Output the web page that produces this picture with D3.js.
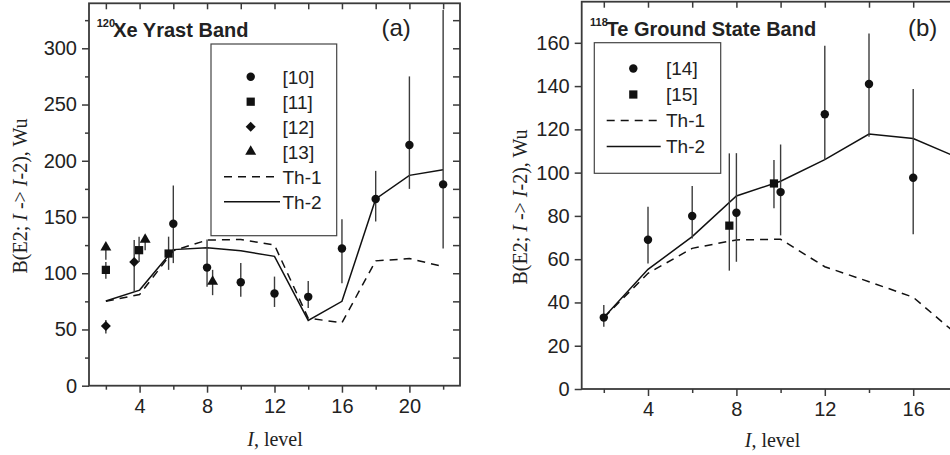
<!DOCTYPE html>
<html>
<head>
<meta charset="utf-8">
<script src="https://cdn.jsdelivr.net/npm/d3@7"></script>
<style>
    body { margin: 0; background: #fff; }
    svg { display: block; }
</style>
</head>
<body>
<script>

// Data: panel (a) 120Xe yrast band
// --------------------------------------------------------------------------------------------
const xeRef10Levels = [6, 8, 10, 12, 14, 16, 18, 20, 22]
const xeRef10B      = [144, 105, 92, 82, 79, 122, 166, 214, 179]
const xeRef10Lo     = [109, 88, 79, 70, 69, 91, 146, 175, 122]
const xeRef10Hi     = [178, 130, 109, 97, 93, 148, 191, 275, 334]

const xeRef11Levels = [2, 3.97, 5.72]
const xeRef11B      = [103, 120.5, 117.5]
const xeRef11Lo     = [95, 110, 103]
const xeRef11Hi     = [110, 132.5, 132.5]

const xeRef12Levels = [2, 3.68]
const xeRef12B      = [53, 110]
const xeRef12Lo     = [46.5, 83.5]
const xeRef12Hi     = [58.5, 129.5]

const xeRef13Levels = [2, 4.33, 8.33]
const xeRef13B      = [123, 130, 92.5]
const xeRef13Lo     = [112, 120.5, 80.5]
const xeRef13Hi     = [126, 134, 103]

const xeThLevels = [2, 4, 6, 8, 10, 12, 14, 16, 18, 20, 22]
const xeTh1      = [75, 81, 120, 129.5, 130, 125, 60, 56, 111, 113, 106]
const xeTh2      = [75.3, 85, 121, 122.7, 120, 115, 58, 75, 166, 187, 192]

const xeLegendLabels = ["[10]", "[11]", "[12]", "[13]", "Th-1", "Th-2"]

// Data: panel (b) 118Te ground state band
// --------------------------------------------------------------------------------------------
const teRef14Levels = [2, 4, 6, 8, 10, 12, 14, 16]
const teRef14B      = [33, 69, 80, 81.5, 91, 127, 141, 97.6]
const teRef14Lo     = [28.8, 58, 69.6, 58.8, 71, 106, 116.6, 71.5]
const teRef14Hi     = [38.8, 84.2, 93.8, 109, 113, 158.6, 164.3, 138.6]

const teRef15Levels = [7.68, 9.7]
const teRef15B      = [75.5, 95]
const teRef15Lo     = [54.7, 83.5]
const teRef15Hi     = [108.9, 105.8]

const teThLevels = [2, 4, 6, 8, 10, 12, 14, 16, 18]
const teTh1      = [33, 53.5, 65, 68.9, 69.2, 56.5, 49.6, 42.4, 25]
const teTh2      = [33, 55.3, 70.4, 89.2, 96, 106, 117.8, 115.8, 107]

const teLegendLabels = ["[14]", "[15]", "Th-1", "Th-2"]

// Tick values
const xeXMajor = [4, 8, 12, 16, 20]
const xeXMinor = [2, 6, 10, 14, 18, 22]
const teXMajor = [4, 8, 12, 16]
const teXMinor = [2, 6, 10, 14, 18]
const xeYMajor = [0, 50, 100, 150, 200, 250, 300]
const xeYMinor = [25, 75, 125, 175, 225, 275, 325]
const teYMajor = [0, 20, 40, 60, 80, 100, 120, 140, 160]


// Helpers
// --------------------------------------------------------------------------------------------
const SANS = "'Liberation Sans', Arial, sans-serif"
const SERIF = "'Liberation Serif', 'Times New Roman', serif"
const INK = "#222"
const FRAME = "#3a3a3a"

function zipSeries(levels, b, lo, hi) {
    return levels.map((l, i) => ({ level: l, b: b[i], lo: lo ? lo[i] : null, hi: hi ? hi[i] : null }))
}

// marker paths, drawn at the origin
const markerPath = {
    circle:   d3.symbol().type(d3.symbolCircle).size(56)(),
    square:   d3.symbol().type(d3.symbolSquare).size(68)(),
    diamond:  d3.symbol().type(d3.symbolSquare).size(50)(),
    triangle: d3.symbol().type(d3.symbolTriangle).size(52)()
}
const markerRotate = { circle: 0, square: 0, diamond: 45, triangle: 0 }

let svg = d3.select("body").append("svg")
    .attr("width", 950)
    .attr("height", 455)


function drawPanel(p) {
    let x = d3.scaleLinear().domain(p.xDomain).range([p.left, p.right])
    let y = d3.scaleLinear().domain(p.yDomain).range([p.bottom, p.top])

    let g = svg.append("g")

    function styleAxis(sel, keepText) {
        sel.select(".domain").remove()
        sel.selectAll(".tick line").attr("stroke", FRAME).attr("stroke-width", 1.5)
        if (keepText) {
            sel.selectAll(".tick text")
                .attr("fill", INK)
                .style("font-family", SANS)
                .style("font-size", "20px")
        } else {
            sel.selectAll(".tick text").remove()
        }
    }

    // bottom axis, major and minor
    g.append("g").attr("transform", `translate(0,${p.bottom})`)
        .call(d3.axisBottom(x).tickValues(p.xMajor).tickSize(7).tickPadding(6).tickFormat(d3.format("d")))
        .call(s => styleAxis(s, true))
    g.append("g").attr("transform", `translate(0,${p.bottom})`)
        .call(d3.axisBottom(x).tickValues(p.xMinor).tickSize(4))
        .call(s => styleAxis(s, false))

    // top axis, ticks pointing inward
    g.append("g").attr("transform", `translate(0,${p.top})`)
        .call(d3.axisBottom(x).tickValues(p.xMajor.concat(p.xMinor)).tickSize(6))
        .call(s => styleAxis(s, false))

    // left axis
    g.append("g").attr("transform", `translate(${p.left},0)`)
        .call(d3.axisLeft(y).tickValues(p.yMajor).tickSize(7).tickPadding(5).tickFormat(d3.format("d")))
        .call(s => styleAxis(s, true))
    if (p.yMinor.length) {
        g.append("g").attr("transform", `translate(${p.left},0)`)
            .call(d3.axisLeft(y).tickValues(p.yMinor).tickSize(4))
            .call(s => styleAxis(s, false))
    }

    // right axis, ticks pointing inward
    g.append("g").attr("transform", `translate(${p.right},0)`)
        .call(d3.axisLeft(y).tickValues(p.yMajor.concat(p.yMinor).filter(v => v > 0)).tickSize(7))
        .call(s => styleAxis(s, false))

    // frame
    g.append("rect")
        .attr("x", p.left).attr("y", p.top)
        .attr("width", p.right - p.left).attr("height", p.bottom - p.top)
        .attr("fill", "none")
        .attr("stroke", FRAME)
        .attr("stroke-width", 1.8)

    // theory lines
    let linepoints = d3.line().x(d => x(d.level)).y(d => y(d.b))
    p.lines.forEach(ln => {
        g.append("path")
            .datum(zipSeries(ln.levels, ln.values))
            .attr("d", linepoints)
            .attr("fill", "none")
            .attr("stroke", "#111")
            .attr("stroke-width", 1.5)
            .attr("stroke-dasharray", ln.dashed ? "8,6" : null)
    })

    // error bars and markers
    p.series.forEach(s => {
        let pts = zipSeries(s.levels, s.b, s.lo, s.hi)
        g.append("g").selectAll("line")
            .data(pts)
            .join("line")
            .attr("x1", d => x(d.level)).attr("x2", d => x(d.level))
            .attr("y1", d => y(d.lo)).attr("y2", d => y(d.hi))
            .attr("stroke", "#3c3c3c")
            .attr("stroke-width", 1.4)
        g.append("g").selectAll("path")
            .data(pts)
            .join("path")
            .attr("d", markerPath[s.marker])
            .attr("transform", d => `translate(${x(d.level)},${y(d.b)}) rotate(${markerRotate[s.marker]})`)
            .attr("fill", "#111")
    })

    // legend
    let lg = p.legend
    g.append("rect")
        .attr("x", lg.x0).attr("y", lg.y0)
        .attr("width", lg.x1 - lg.x0).attr("height", lg.y1 - lg.y0)
        .attr("fill", "#fff")
        .attr("stroke", "#444")
        .attr("stroke-width", 1.2)
    lg.labels.forEach((label, i) => {
        let yy = lg.firstY + i * lg.step
        let item = lg.items[i]
        if (item.marker) {
            g.append("path")
                .attr("d", markerPath[item.marker])
                .attr("transform", `translate(${lg.symbolX},${yy}) rotate(${markerRotate[item.marker]})`)
                .attr("fill", "#111")
        } else {
            g.append("line")
                .attr("x1", lg.lineX0).attr("x2", lg.lineX1)
                .attr("y1", yy).attr("y2", yy)
                .attr("stroke", "#111")
                .attr("stroke-width", 1.5)
                .attr("stroke-dasharray", item.dashed ? "8,6" : null)
        }
        g.append("text")
            .attr("x", lg.textX).attr("y", yy)
            .attr("dy", "0.36em")
            .attr("fill", INK)
            .style("font-family", SANS)
            .style("font-size", "19px")
            .text(label)
    })

    // panel title with superscript mass number
    let t = g.append("text")
        .attr("x", p.title.x).attr("y", p.title.y)
        .attr("fill", INK)
        .style("font-family", SANS)
        .style("font-weight", "bold")
    t.append("tspan").attr("dy", -10).style("font-size", "11px").text(p.title.mass)
    t.append("tspan").attr("x", p.title.x + 16.5).attr("dy", 10).style("font-size", "20px").text(p.title.text)

    g.append("text")
        .attr("x", p.tag.x).attr("y", p.tag.y)
        .attr("fill", INK)
        .style("font-family", SANS)
        .style("font-size", "24px")
        .text(p.tag.text)

    // axis titles
    let yt = g.append("text")
        .attr("transform", `translate(${p.yTitle.x},${p.yTitle.y}) rotate(-90)`)
        .attr("text-anchor", "middle")
        .attr("fill", INK)
        .style("font-family", SERIF)
        .style("font-size", "20px")
    yt.append("tspan").text("B(E2; ")
    yt.append("tspan").style("font-style", "italic").text("I")
    yt.append("tspan").text(" -> ")
    yt.append("tspan").style("font-style", "italic").text("I")
    yt.append("tspan").text("-2), Wu")

    let xt = g.append("text")
        .attr("x", p.xTitle.x).attr("y", p.xTitle.y)
        .attr("text-anchor", "middle")
        .attr("fill", INK)
        .style("font-family", SERIF)
        .style("font-size", "20px")
    xt.append("tspan").style("font-style", "italic").text("I")
    xt.append("tspan").text(", level")
}


// Panel (a)
drawPanel({
    left: 89, right: 460, top: 3.3, bottom: 385.7,
    xDomain: [1, 23], yDomain: [0, 340],
    xMajor: xeXMajor, xMinor: xeXMinor,
    yMajor: xeYMajor, yMinor: xeYMinor,
    lines: [
        { levels: xeThLevels, values: xeTh1, dashed: true },
        { levels: xeThLevels, values: xeTh2, dashed: false }
    ],
    series: [
        { levels: xeRef10Levels, b: xeRef10B, lo: xeRef10Lo, hi: xeRef10Hi, marker: "circle" },
        { levels: xeRef11Levels, b: xeRef11B, lo: xeRef11Lo, hi: xeRef11Hi, marker: "square" },
        { levels: xeRef12Levels, b: xeRef12B, lo: xeRef12Lo, hi: xeRef12Hi, marker: "diamond" },
        { levels: xeRef13Levels, b: xeRef13B, lo: xeRef13Lo, hi: xeRef13Hi, marker: "triangle" }
    ],
    legend: {
        x0: 211, x1: 336.7, y0: 44, y1: 235.7,
        firstY: 76.7, step: 25,
        symbolX: 250.7, textX: 282.5, lineX0: 224, lineX1: 280,
        labels: xeLegendLabels,
        items: [{ marker: "circle" }, { marker: "square" }, { marker: "diamond" }, { marker: "triangle" },
                { dashed: true }, { dashed: false }]
    },
    title: { x: 96.7, y: 37, mass: "120", text: "Xe Yrast Band" },
    tag: { x: 381.5, y: 36, text: "(a)" },
    yTitle: { x: 27, y: 196 },
    xTitle: { x: 275, y: 446 }
})

// Panel (b), its right edge lies beyond the picture
drawPanel({
    left: 581.7, right: 581.7 + 22 * 22.1, top: 1.7, bottom: 389,
    xDomain: [1, 23], yDomain: [0, 179],
    xMajor: teXMajor, xMinor: teXMinor,
    yMajor: teYMajor, yMinor: [],
    lines: [
        { levels: teThLevels, values: teTh1, dashed: true },
        { levels: teThLevels, values: teTh2, dashed: false }
    ],
    series: [
        { levels: teRef14Levels, b: teRef14B, lo: teRef14Lo, hi: teRef14Hi, marker: "circle" },
        { levels: teRef15Levels, b: teRef15B, lo: teRef15Lo, hi: teRef15Hi, marker: "square" }
    ],
    legend: {
        x0: 594.3, x1: 720.7, y0: 42.7, y1: 173.3,
        firstY: 68.5, step: 26,
        symbolX: 633.3, textX: 666, lineX0: 606.7, lineX1: 660.7,
        labels: teLegendLabels,
        items: [{ marker: "circle" }, { marker: "square" }, { dashed: true }, { dashed: false }]
    },
    title: { x: 590, y: 36, mass: "118", text: "Te Ground State Band" },
    tag: { x: 908, y: 36, text: "(b)" },
    yTitle: { x: 526.5, y: 207 },
    xTitle: { x: 772.5, y: 447 }
})

</script>
</body>
</html>
